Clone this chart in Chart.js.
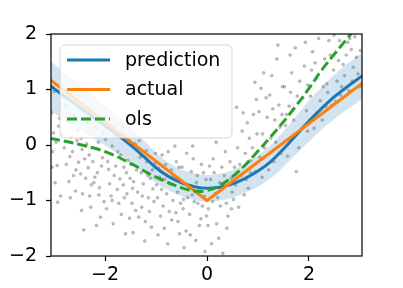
<!DOCTYPE html>
<html>
<head>
<meta charset="utf-8">
<script src="https://cdn.jsdelivr.net/npm/chart.js@4/dist/chart.umd.min.js"></script>
<style>
  html, body { margin:0; padding:0; background:#fff; }
  #wrap { width:403px; height:288px; }
</style>
</head>
<body>
<div id="wrap"><canvas id="chart1"></canvas></div>
<script>
// ticks
const xTicks = [-2, 0, 2];
const yTicks = [-2, -1, 0, 1, 2];

// model prediction + uncertainty band
const predX  = [-3.08,-2.5,-2.0,-1.5,-1.25,-1.0,-0.75,-0.5,-0.25,0,0.25,0.5,0.75,1.0,1.25,1.5,1.75,2.0,2.25,2.5,2.75,3.08];
const predY  = [1.07,0.68,0.35,0.0,-0.2,-0.41,-0.57,-0.68,-0.75,-0.78,-0.76,-0.7,-0.6,-0.47,-0.3,-0.07,0.18,0.43,0.66,0.87,1.05,1.27];
const bandHi = [1.52,1.08,0.71,0.31,0.09,-0.14,-0.32,-0.44,-0.51,-0.54,-0.52,-0.45,-0.34,-0.19,0.0,0.25,0.52,0.80,1.04,1.27,1.46,1.69];
const bandLo = [0.62,0.28,-0.01,-0.31,-0.49,-0.68,-0.82,-0.92,-0.99,-1.02,-1.00,-0.95,-0.86,-0.75,-0.60,-0.39,-0.16,0.06,0.28,0.47,0.64,0.85];

// true function
const actualX = [-3.08, 0, 3.08];
const actualY = [1.18, -1.0, 1.14];

// ols fit
const olsX = [-3.08,-2.5,-2.0,-1.5,-1.0,-0.5,-0.25,0,0.25,0.5,0.75,1.0,1.25,1.5,1.75,2.0,2.25,2.5,2.75,3.08];
const olsY = [0.12,0.01,-0.12,-0.33,-0.58,-0.77,-0.83,-0.82,-0.73,-0.57,-0.36,-0.11,0.15,0.42,0.71,1.02,1.35,1.64,1.92,2.3];

// noisy samples
const samples = [
[-2.91,0.34],[-3.03,-0.12],[-2.62,-0.55],[-2.77,0.71],[-2.55,0.08],[-2.98,-0.68],[-2.69,-0.21],[-2.84,0.19],[-3.05,0.58],[-2.58,-0.83],
[-2.73,0.42],[-2.94,-0.37],[-2.66,0.15],[-2.87,-0.92],[-2.52,-0.31],[-3.0,0.96],[-2.8,-0.05],[-2.6,0.52],[-2.96,0.05],[-2.71,-0.66],
[-2.89,0.48],[-2.64,-0.12],[-3.04,-0.4],[-2.76,-0.35],[-2.54,0.27],[-2.93,-1.03],[-2.83,0.88],[-2.68,-0.95],[-2.57,-0.45],[-3.01,0.22],
[-2.33,-0.41],[-2.47,0.12],[-2.11,-0.77],[-2.28,-1.12],[-2.42,-1.53],[-2.05,-0.23],[-2.38,-0.6],[-2.19,0.31],[-2.44,-0.88],[-2.02,-1.02],
[-2.26,-0.05],[-2.15,-0.5],[-2.35,0.4],[-2.09,-1.3],[-2.4,-0.25],[-2.22,-0.68],[-2.48,-0.52],[-2.13,0.05],[-2.3,-0.92],[-2.07,-0.38],
[-2.46,-1.18],[-2.24,-0.3],[-2.17,-1.45],[-2.36,0.02],[-2.04,0.22],[-2.27,-0.72],[-2.45,-0.08],[-2.12,-0.9],[-2.31,-0.18],[-2.2,-0.58],
[-1.93,-0.44],[-1.62,-0.95],[-1.81,0.17],[-1.55,-0.28],[-1.97,-1.15],[-1.71,-0.61],[-1.86,-0.02],[-1.52,-1.32],[-1.76,-0.8],[-1.66,0.33],
[-1.91,-0.7],[-1.58,-0.5],[-1.84,-1.42],[-1.69,-0.18],[-1.99,0.1],[-1.6,-1.6],[-1.79,-0.38],[-1.53,0.08],[-1.88,-0.92],[-1.73,-1.05],
[-1.64,-0.72],[-1.95,-0.3],[-1.57,-0.88],[-1.82,-0.55],[-1.68,-1.25],[-1.51,-0.6],[-1.9,0.3],[-1.75,-0.12],[-1.63,-0.4],[-1.86,-1.0],
[-1.44,-0.66],[-1.13,-1.2],[-1.31,-0.22],[-1.06,-0.79],[-1.47,-1.05],[-1.22,-1.73],[-1.38,-0.45],[-1.02,-0.33],[-1.27,-0.92],[-1.16,-0.55],
[-1.41,0.02],[-1.09,-1.48],[-1.34,-1.3],[-1.19,-0.1],[-1.49,-0.35],[-1.25,-0.7],[-1.04,-1.02],[-1.36,-0.85],[-1.11,-0.6],[-1.45,-1.58],
[-1.29,-0.5],[-1.15,-0.95],[-1.4,-1.18],[-1.01,-0.15],[-1.21,-1.38],[-1.33,0.08],[-1.07,-0.45],[-1.46,-0.78],[-1.18,-0.3],[-1.28,-1.12],
[-0.93,-0.58],[-0.61,-1.22],[-0.84,-1.5],[-0.55,-0.4],[-0.97,-0.95],[-0.72,-0.7],[-0.88,-0.18],[-0.52,-1.05],[-0.77,-1.78],[-0.66,-0.55],
[-0.91,-1.28],[-0.58,-0.85],[-0.81,-0.35],[-0.69,-1.35],[-0.99,-0.72],[-0.63,-0.02],[-0.86,-1.1],[-0.54,-1.6],[-0.79,-0.88],[-0.95,-0.42],
[-0.67,-1.0],[-0.51,-0.65],[-0.83,-0.62],[-0.74,-1.2],[-0.6,-0.3],[-0.89,-0.8],[-0.7,-0.45],[-0.96,-1.62],[-0.57,-1.38],[-0.76,-0.12],
[-0.43,-0.71],[-0.12,-1.33],[-0.31,-0.48],[-0.05,-0.92],[-0.47,-1.15],[-0.22,-1.72],[-0.38,-0.95],[-0.02,-0.62],[-0.27,-0.25],[-0.16,-0.8],
[-0.41,-1.55],[-0.09,-1.1],[-0.34,-1.25],[-0.19,-0.55],[-0.49,-0.4],[-0.25,-1.02],[-0.04,-1.92],[-0.36,-0.78],[-0.11,-0.35],[-0.45,-1.85],
[-0.29,-0.9],[-0.15,-1.45],[-0.4,-0.15],[-0.01,-1.28],[-0.21,-0.68],[-0.33,-1.62],[-0.07,-0.5],[-0.46,-0.98],[-0.18,-1.05],[-0.28,-0.02],
[0.07,-0.62],[0.38,-1.05],[0.19,-1.42],[0.45,-0.3],[0.03,-1.15],[0.28,-0.78],[0.12,-0.25],[0.49,-0.85],[0.23,-1.68],[0.34,-0.55],
[0.09,-1.78],[0.41,-1.28],[0.16,-0.88],[0.31,-1.95],[0.05,-0.38],[0.26,-1.1],[0.47,-0.6],[0.14,-0.5],[0.36,-0.12],[0.21,-0.95],
[0.02,-1.45],[0.43,-0.72],[0.11,-1.02],[0.29,-0.4],[0.39,-1.5],[0.18,0.05],[0.48,-1.15],[0.25,-0.68],
[0.56,-0.72],[0.83,0.12],[0.64,-0.35],[0.95,-0.48],[0.52,-0.98],[0.77,-0.62],[0.69,0.25],[0.91,0.55],[0.6,-0.05],[0.86,-0.28],
[0.73,-0.9],[0.98,0.2],[0.58,0.68],[0.81,-0.78],[0.67,-0.55],[0.94,1.13],[0.54,-0.4],[0.79,0.4],[0.89,-0.05],[0.62,-1.12],
[0.75,-0.15],[0.97,0.82],[0.71,0.58],[0.85,-0.5],
[1.04,-0.22],[1.33,0.45],[1.16,0.85],[1.45,-0.15],[1.09,0.2],[1.27,1.25],[1.41,0.72],[1.02,0.6],[1.21,-0.45],[1.37,1.55],
[1.13,-0.05],[1.48,1.05],[1.25,0.12],[1.06,1.02],[1.43,0.32],[1.18,0.5],[1.31,-0.3],[1.39,1.8],[1.11,1.3],[1.47,0.55],
[1.23,0.9],[1.35,0.05],[1.08,-0.58],[1.29,0.65],
[1.54,0.35],[1.82,1.15],[1.63,1.62],[1.95,0.62],[1.58,-0.2],[1.77,0.88],[1.69,0.15],[1.91,1.42],[1.52,1.05],[1.86,0.3],
[1.73,1.75],[1.98,1.08],[1.61,0.7],[1.8,-0.05],[1.66,1.3],[1.93,1.85],[1.56,0.55],[1.75,-0.48],[1.88,0.85],[1.64,0.95],
[1.97,0.25],[1.7,0.45],
[2.03,0.88],[2.31,1.55],[2.14,1.2],[2.45,0.72],[2.07,1.68],[2.26,0.45],[2.39,1.88],[2.1,0.3],[2.35,1.1],[2.19,1.92],
[2.48,1.35],[2.22,0.8],[2.42,1.62],[2.05,1.35],[2.28,1.05],[2.16,0.58],[2.37,0.95],[2.49,1.98],[2.12,1.48],[2.33,0.7],
[2.55,1.15],[2.83,1.72],[2.67,1.45],[2.96,1.28],[2.6,1.88],[2.78,0.98],[2.9,1.95],[2.52,0.78],[2.73,1.62],[3.01,1.7],
[2.64,1.05],[2.87,1.4],[2.58,1.52],[2.8,1.92],[2.7,1.25],[2.99,1.05],[2.93,1.58],[2.62,0.9],[2.85,1.15],[2.76,1.85]
];

const FONT = "'DejaVu Sans', sans-serif";

function pts(xs, ys){
    return xs.map((x,i)=>({x:x, y:ys[i]}));
}

function minus(v){
    return v < 0 ? "\u2212" + Math.abs(v) : String(v);
}

// frame + legend drawn on top, like matplotlib
const framePlugin = {
    id:"frame",
    afterDraw(chart){
        const ctx = chart.ctx;
        const a = chart.chartArea;
        ctx.save();
        ctx.strokeStyle = "#000";
        ctx.lineWidth = 1.2;
        ctx.strokeRect(a.left, a.top, a.right - a.left, a.bottom - a.top);

        // legend box
        const bx = 60, by = 45, bw = 172, bh = 93, r = 5;
        ctx.beginPath();
        ctx.moveTo(bx + r, by);
        ctx.arcTo(bx + bw, by, bx + bw, by + bh, r);
        ctx.arcTo(bx + bw, by + bh, bx, by + bh, r);
        ctx.arcTo(bx, by + bh, bx, by, r);
        ctx.arcTo(bx, by, bx + bw, by, r);
        ctx.closePath();
        ctx.fillStyle = "rgba(255,255,255,0.8)";
        ctx.fill();
        ctx.strokeStyle = "rgba(204,204,204,0.8)";
        ctx.lineWidth = 1;
        ctx.stroke();

        const rows = [60, 89.5, 119];
        [0,1,2].forEach((di,i)=>{
            const ds = chart.data.datasets[di];
            ctx.beginPath();
            ctx.setLineDash(ds.borderDash || []);
            ctx.strokeStyle = ds.borderColor;
            ctx.lineWidth = ds.borderWidth;
            ctx.moveTo(67, rows[i]);
            ctx.lineTo(110, rows[i]);
            ctx.stroke();
            ctx.setLineDash([]);
            ctx.fillStyle = "#000";
            ctx.font = "19px " + FONT;
            ctx.textBaseline = "middle";
            ctx.textAlign = "left";
            ctx.fillText(ds.label, 125, rows[i] + 1);
        });
        ctx.restore();
    }
};

new Chart(document.getElementById("chart1"), {
    type:"scatter",
    data:{
        datasets:[
            {
                label:"prediction",
                data:pts(predX, predY),
                showLine:true,
                borderColor:"#1f77b4",
                borderWidth:3,
                pointRadius:0,
                tension:0.4,
                order:3
            },
            {
                label:"actual",
                data:pts(actualX, actualY),
                showLine:true,
                borderColor:"#ff7f0e",
                borderWidth:3,
                pointRadius:0,
                order:2
            },
            {
                label:"ols",
                data:pts(olsX, olsY),
                showLine:true,
                borderColor:"#2ca02c",
                borderWidth:3,
                borderDash:[10,4],
                pointRadius:0,
                tension:0.4,
                order:1
            },
            {
                label:"band low",
                data:pts(predX, bandLo),
                showLine:true,
                borderWidth:0,
                borderColor:"rgba(0,0,0,0)",
                pointRadius:0,
                tension:0.4,
                order:9
            },
            {
                label:"band high",
                data:pts(predX, bandHi),
                showLine:true,
                borderWidth:0,
                borderColor:"rgba(0,0,0,0)",
                backgroundColor:"rgba(31,119,180,0.2)",
                fill:3,
                pointRadius:0,
                tension:0.4,
                order:9
            },
            {
                label:"samples",
                data:samples.map(p=>({x:p[0], y:p[1]})),
                backgroundColor:"rgba(128,128,128,0.45)",
                borderColor:"rgba(100,100,100,0.55)",
                borderWidth:0.6,
                pointRadius:1.4,
                order:10
            }
        ]
    },
    options:{
        responsive:true,
        maintainAspectRatio:false,
        animation:false,
        events:[],
        layout:{ padding:{ top:34, right:41, left:0, bottom:0 } },
        plugins:{
            legend:{ display:false },
            tooltip:{ enabled:false }
        },
        scales:{
            x:{
                type:"linear",
                min:-3.06,
                max:3.04,
                afterBuildTicks(s){ s.ticks = xTicks.map(v=>({value:v})); },
                afterFit(s){ s.height = 32; },
                border:{ display:false },
                grid:{ drawOnChartArea:false, drawTicks:true, tickLength:5, tickColor:"#000", tickWidth:1.2 },
                ticks:{ color:"#000", padding:3, font:{ family:FONT, size:19 }, maxRotation:0,
                        callback:v=>minus(v) }
            },
            y:{
                type:"linear",
                min:-2,
                max:2,
                afterBuildTicks(s){ s.ticks = yTicks.map(v=>({value:v})); },
                afterFit(s){ s.width = 51; },
                border:{ display:false },
                grid:{ drawOnChartArea:false, drawTicks:true, tickLength:5, tickColor:"#000", tickWidth:1.2 },
                ticks:{ color:"#000", padding:9, font:{ family:FONT, size:19 },
                        callback:v=>minus(v) }
            }
        }
    },
    plugins:[framePlugin]
});
</script>
</body>
</html>
